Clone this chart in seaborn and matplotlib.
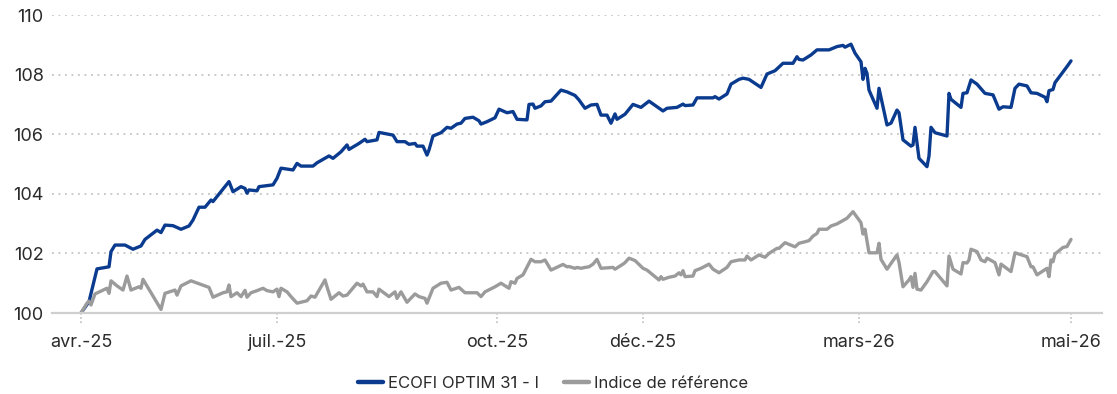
import numpy as np
import pandas as pd
import matplotlib
matplotlib.use("Agg")
import matplotlib.pyplot as plt
import matplotlib.transforms as mtransforms
import seaborn as sns

# Séances (index de cotation) et valeurs base 100 du fonds
fund_obs = [0, 4, 8, 14, 15, 17, 22, 26, 30, 32, 38, 40, 42, 46, 50, 54, 56, 59, 62, 65,
            66, 74, 76, 80, 82, 83, 84, 88, 89, 96, 98, 100, 106, 108, 110, 116, 118, 124, 126, 130,
            133, 134, 139, 142, 143, 148, 149, 156, 158, 162, 164, 167, 168, 171, 173, 174, 176, 180, 183, 185,
            188, 190, 192, 196, 199, 200, 203, 207, 209, 213, 216, 218, 223, 224, 226, 227, 230, 232, 235, 240,
            243, 244, 247, 249, 252, 255, 258, 260, 263, 265, 267, 268, 272, 276, 280, 284, 288, 291, 293, 298,
            301, 302, 306, 308, 316, 317, 319, 323, 325, 329, 331, 334, 340, 343, 347, 351, 356, 358, 359, 361,
            365, 368, 374, 378, 381, 382, 385, 387, 390, 391, 392, 393, 394, 398, 399, 403, 405, 408, 409, 411,
            415, 416, 417, 419, 423, 424, 425, 427, 433, 434, 435, 440, 441, 443, 445, 448, 452, 456, 459, 461,
            465, 467, 469, 473, 475, 478, 482, 483, 484, 486, 487, 493, 495]
fund_values = [100.00, 100.38, 101.48, 101.55, 102.06, 102.28, 102.28, 102.14, 102.25, 102.47,
               102.78, 102.70, 102.95, 102.93, 102.81, 102.92, 103.12, 103.55, 103.55, 103.79,
               103.74, 104.41, 104.07, 104.24, 104.18, 104.02, 104.13, 104.10, 104.24, 104.30,
               104.52, 104.86, 104.80, 105.02, 104.93, 104.93, 105.04, 105.27, 105.19, 105.41,
               105.64, 105.49, 105.69, 105.83, 105.75, 105.81, 106.06, 105.97, 105.75, 105.75,
               105.66, 105.69, 105.60, 105.60, 105.30, 105.47, 105.94, 106.05, 106.23, 106.20,
               106.34, 106.37, 106.53, 106.57, 106.45, 106.34, 106.42, 106.55, 106.84, 106.72,
               106.76, 106.50, 106.48, 107.00, 107.01, 106.87, 106.95, 107.09, 107.11, 107.48,
               107.42, 107.39, 107.30, 107.15, 106.87, 106.98, 107.00, 106.64, 106.64, 106.37,
               106.68, 106.50, 106.67, 107.00, 106.90, 107.11, 106.92, 106.78, 106.87, 106.90,
               107.01, 106.96, 106.98, 107.22, 107.22, 107.26, 107.18, 107.35, 107.68, 107.84,
               107.88, 107.84, 107.57, 108.02, 108.13, 108.38, 108.38, 108.60, 108.51, 108.49,
               108.66, 108.83, 108.83, 108.94, 108.98, 108.92, 109.02, 108.72, 108.43, 107.84,
               108.21, 108.04, 107.48, 106.87, 107.54, 106.31, 106.37, 106.81, 106.72, 105.81,
               105.60, 105.64, 106.23, 105.19, 104.91, 105.27, 106.23, 106.05, 105.94, 107.37,
               107.17, 106.90, 107.37, 107.39, 107.82, 107.68, 107.37, 107.32, 106.84, 106.92,
               106.90, 107.54, 107.68, 107.62, 107.39, 107.37, 107.24, 107.09, 107.46, 107.50,
               107.73, 108.27, 108.46]

# Séances et valeurs base 100 de l'indice de référence
bench_obs = [0, 3, 4, 5, 7, 13, 14, 15, 18, 21, 23, 25, 29, 30, 31, 40, 42, 47, 48, 50,
             55, 64, 66, 71, 73, 74, 75, 78, 80, 82, 83, 85, 88, 91, 93, 96, 98, 99, 100, 103,
             105, 108, 113, 115, 117, 122, 123, 125, 129, 131, 133, 138, 140, 141, 143, 146, 148, 149, 154, 157,
             158, 160, 163, 165, 167, 169, 172, 173, 176, 180, 183, 185, 189, 192, 198, 200, 202, 207, 210, 214,
             215, 217, 218, 221, 225, 227, 230, 232, 235, 241, 243, 244, 247, 248, 250, 252, 254, 256, 258, 260,
             266, 267, 271, 272, 274, 277, 281, 283, 287, 289, 290, 291, 294, 297, 299, 300, 301, 302, 306, 307,
             310, 314, 316, 319, 323, 325, 329, 332, 333, 335, 339, 342, 344, 348, 349, 352, 357, 359, 362, 364,
             366, 368, 369, 373, 375, 378, 383, 386, 390, 391, 392, 394, 398, 399, 400, 403, 408, 409, 411, 414,
             415, 416, 417, 418, 420, 423, 426, 427, 433, 434, 436, 440, 441, 443, 444, 445, 448, 450, 452, 453,
             457, 459, 460, 465, 467, 473, 475, 476, 478, 483, 484, 485, 486, 487, 491, 493, 495]
bench_values = [100.00, 100.33, 100.40, 100.27, 100.64, 100.83, 100.66, 101.08, 100.91, 100.77,
                101.24, 100.77, 100.88, 100.83, 101.13, 100.12, 100.66, 100.77, 100.60, 100.91,
                101.08, 100.86, 100.53, 100.68, 100.71, 100.94, 100.55, 100.68, 100.55, 100.76,
                100.53, 100.68, 100.75, 100.83, 100.75, 100.71, 100.80, 100.55, 100.83, 100.71,
                100.55, 100.33, 100.41, 100.57, 100.53, 101.11, 100.88, 100.46, 100.68, 100.57,
                100.60, 101.00, 100.91, 100.97, 100.71, 100.71, 100.55, 100.80, 100.55, 100.71,
                100.49, 100.71, 100.36, 100.50, 100.64, 100.55, 100.49, 100.33, 100.83, 101.00,
                101.03, 100.77, 100.86, 100.68, 100.68, 100.55, 100.71, 100.88, 101.00, 100.83,
                101.05, 101.00, 101.16, 101.28, 101.80, 101.72, 101.72, 101.78, 101.44, 101.63,
                101.55, 101.56, 101.50, 101.53, 101.50, 101.53, 101.55, 101.64, 101.80, 101.50,
                101.53, 101.47, 101.64, 101.69, 101.84, 101.76, 101.50, 101.44, 101.22, 101.11,
                101.22, 101.13, 101.20, 101.24, 101.35, 101.28, 101.42, 101.22, 101.24, 101.42,
                101.50, 101.64, 101.47, 101.35, 101.53, 101.72, 101.78, 101.78, 101.91, 101.78,
                101.95, 101.87, 102.00, 102.17, 102.17, 102.36, 102.22, 102.34, 102.39, 102.43,
                102.58, 102.67, 102.81, 102.81, 102.92, 102.99, 103.18, 103.40, 103.03, 102.65,
                102.81, 102.02, 102.02, 102.34, 101.80, 101.47, 101.95, 101.70, 100.88, 101.11,
                101.22, 100.86, 101.33, 100.80, 100.77, 101.05, 101.39, 101.39, 100.91, 101.91,
                101.47, 101.31, 101.69, 101.68, 101.78, 102.14, 102.06, 101.78, 101.72, 101.84,
                101.69, 101.28, 101.64, 101.39, 102.02, 101.89, 101.55, 101.55, 101.28, 101.50,
                101.22, 101.78, 101.72, 101.98, 102.20, 102.23, 102.47]

series_names = ["ECOFI OPTIM 31 - I", "Indice de référence"]
series_colors = ["#0b3b8f", "#9b9b9b"]

tick_obs = [0, 98, 208, 281, 389, 495]
tick_labels = ["avr.-25", "juil.-25", "oct.-25", "déc.-25", "mars-26", "mai-26"]
y_ticks = [100, 102, 104, 106, 108, 110]

df = pd.concat([
    pd.DataFrame({"obs": fund_obs, "valeur": fund_values, "serie": series_names[0]}),
    pd.DataFrame({"obs": bench_obs, "valeur": bench_values, "serie": series_names[1]}),
])

sns.set_theme(style="white")
plt.rcParams["font.family"] = ["Inter", "DejaVu Sans"]
text_color = "#2b2b2b"
label_size = 13

fig = plt.figure(figsize=(11.17, 3.94), dpi=100)
ax = fig.add_axes([52 / 1117, 81 / 394, 1050 / 1117, 298 / 394])

sns.lineplot(data=df, x="obs", y="valeur", hue="serie", hue_order=series_names,
             palette=series_colors, linewidth=2.4, ax=ax, legend=False)

ax.set_xlim(-14.5, 510.5)
ax.set_ylim(100, 110)
ax.set_yticks(y_ticks)
ax.set_yticklabels([str(v) for v in y_ticks])
ax.set_xticks(tick_obs)
ax.set_xticklabels(tick_labels)
ax.set_xlabel("")
ax.set_ylabel("")

# Grille horizontale en pointillés
for v in y_ticks[1:]:
    ax.axhline(v, color="#c4c4c4", linewidth=1.3, linestyle=(0, (1, 2.6)), zorder=0)

for s in ["top", "right", "left"]:
    ax.spines[s].set_visible(False)
ax.spines["bottom"].set_color("#cfcfcf")
ax.spines["bottom"].set_linewidth(1.6)

ax.tick_params(axis="y", length=0, pad=6, labelsize=label_size, labelcolor=text_color)
ax.tick_params(axis="x", length=0, pad=15, labelsize=label_size, labelcolor=text_color)

# Petits repères pointillés sous l'axe des abscisses
trans = mtransforms.blended_transform_factory(ax.transData, ax.transAxes)
for pos in tick_obs:
    ax.plot([pos, pos], [0, -0.035], transform=trans, color="#bdbdbd",
            linewidth=1.2, linestyle=(0, (1, 1.5)), clip_on=False)

handles = [plt.Line2D([], [], color=c, linewidth=3.2) for c in series_colors]
fig.legend(handles, series_names, loc="center", bbox_to_anchor=(0.495, 0.026),
           ncol=2, frameon=False, fontsize=12, handlelength=1.5, handletextpad=0.3,
           columnspacing=1.5, labelcolor=text_color)

fig.savefig("out.png", dpi=100)
